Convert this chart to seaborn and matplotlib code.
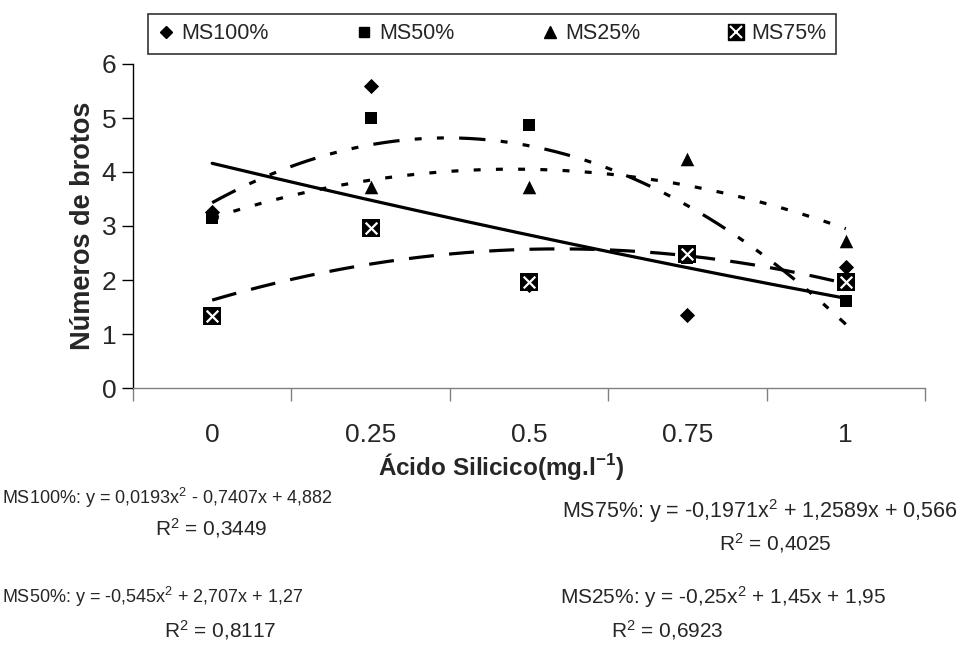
import numpy as np
import pandas as pd
import matplotlib
matplotlib.use("Agg")
import matplotlib.pyplot as plt
from matplotlib.lines import Line2D
from matplotlib.legend_handler import HandlerTuple
import seaborn as sns

# ---------------- data ----------------
categories = ["0", "0.25", "0.5", "0.75", "1"]
series_names = ["MS100%", "MS50%", "MS25%", "MS75%"]
ms100 = [3.26, 5.60, 1.90, 1.35, 2.25]
ms50 = [3.15, 5.00, 4.87, 2.40, 1.62]
ms25 = [3.25, 3.73, 3.73, 4.24, 2.72]
ms75 = [1.33, 2.97, 1.97, 2.48, 1.97]

# trendline coefficients (a, b, c) from the chart equations, x = category index 1..5
coef_ms100 = [0.0193, -0.7407, 4.882]
coef_ms50 = [-0.545, 2.707, 1.27]
coef_ms25 = [-0.25, 1.45, 1.95]
coef_ms75 = [-0.1971, 1.2589, 0.566]

eq_texts = {
    "MS100%": ("MS100%: y = 0,0193x$^2$ - 0,7407x + 4,882", "R$^2$ = 0,3449"),
    "MS75%": ("MS75%: y = -0,1971x$^2$ + 1,2589x + 0,566", "R$^2$ = 0,4025"),
    "MS50%": ("MS50%: y = -0,545x$^2$ + 2,707x + 1,27", "R$^2$ = 0,8117"),
    "MS25%": ("MS25%: y = -0,25x$^2$ + 1,45x + 1,95", "R$^2$ = 0,6923"),
}

# ---------------- style ----------------
sns.set_theme(style="white")
plt.rcParams["font.family"] = ["Liberation Sans", "DejaVu Sans"]
plt.rcParams["mathtext.fontset"] = "custom"
plt.rcParams["mathtext.rm"] = "Liberation Sans"
plt.rcParams["mathtext.it"] = "Liberation Sans:italic"
plt.rcParams["mathtext.bf"] = "Liberation Sans:bold"
plt.rcParams["lines.scale_dashes"] = False

W, H = 960, 669
fig = plt.figure(figsize=(W / 100, H / 100), dpi=100)
ax = fig.add_axes([133 / W, 1 - 388 / H, (925 - 133) / W, (388 - 64) / H])

def fx(px):
    return px / W

def fy(py):
    return 1 - py / H

pos = np.arange(len(categories))
vals = {"MS100%": ms100, "MS50%": ms50, "MS25%": ms25, "MS75%": ms75}
coefs = {"MS100%": coef_ms100, "MS50%": coef_ms50, "MS25%": coef_ms25, "MS75%": coef_ms75}
styles = {
    "MS100%": "-",
    "MS50%": (0, (19, 11, 5, 11, 5, 11)),
    "MS25%": (0, (5, 11)),
    "MS75%": (0, (18, 11)),
}

# trendlines
t = np.linspace(1, len(categories), 200)
for name in series_names:
    a, b, c = coefs[name]
    df_line = pd.DataFrame({"x": t - 1, "y": np.polyval([a, b, c], t)})
    sns.lineplot(data=df_line, x="x", y="y", ax=ax, color="black", lw=2.3,
                 linestyle=styles[name], zorder=2, estimator=None, sort=False)

# points
marker_spec = {
    "MS100%": dict(marker="D", s=60),
    "MS50%": dict(marker="s", s=70),
    "MS25%": dict(marker="^", s=95),
}
for name in ["MS100%", "MS50%", "MS25%"]:
    d = pd.DataFrame({"x": pos, "y": vals[name]})
    sns.scatterplot(data=d, x="x", y="y", ax=ax, color="black", edgecolor="black",
                    linewidth=0, zorder=3, **marker_spec[name])
d75 = pd.DataFrame({"x": pos, "y": ms75})
sns.scatterplot(data=d75, x="x", y="y", ax=ax, marker="s", s=150, color="black",
                edgecolor="black", linewidth=0, zorder=4)
sns.scatterplot(data=d75, x="x", y="y", ax=ax, marker="x", s=70, color="white",
                linewidth=1.6, zorder=5)

# axes
ax.set_xlim(-0.5, len(categories) - 0.5)
ax.set_ylim(0, 6)
ax.set_yticks(range(0, 7))
ax.set_xticks(np.arange(-0.5, len(categories), 1.0))
ax.set_xticklabels([])
ax.set_xticks(pos, minor=True)
ax.set_xticklabels(categories, minor=True)
ax.tick_params(axis="x", which="major", direction="out", length=9, width=1,
               color="#808080", bottom=True)
ax.tick_params(axis="x", which="minor", length=0, pad=25, labelsize=19)
ax.tick_params(axis="y", direction="out", length=8, width=1, color="black",
               left=True, pad=4, labelsize=19)
for side in ["top", "right"]:
    ax.spines[side].set_visible(False)
ax.spines["left"].set_color("black")
ax.spines["bottom"].set_color("#808080")
ax.spines["left"].set_linewidth(1)
ax.spines["bottom"].set_linewidth(1)
ax.set_xlabel("")
ax.set_ylabel("Números de brotos", fontsize=19.5, fontweight="bold", labelpad=4)

fig.text(fx(501), fy(466), "Ácido Silicico(mg.l$^{\\mathbf{-1}}$)", fontsize=17.5,
         fontweight="bold", ha="center", va="center")

# equations
fig.text(fx(2), fy(498), eq_texts["MS100%"][0], fontsize=13, ha="left", va="center")
fig.text(fx(211), fy(528), eq_texts["MS100%"][1], fontsize=15, ha="center", va="center")
fig.text(fx(958), fy(511), eq_texts["MS75%"][0], fontsize=15.5, ha="right", va="center")
fig.text(fx(775), fy(543), eq_texts["MS75%"][1], fontsize=15, ha="center", va="center")
fig.text(fx(2), fy(597), eq_texts["MS50%"][0], fontsize=13, ha="left", va="center")
fig.text(fx(220), fy(630), eq_texts["MS50%"][1], fontsize=15, ha="center", va="center")
fig.text(fx(560), fy(597), eq_texts["MS25%"][0], fontsize=15, ha="left", va="center")
fig.text(fx(667), fy(630), eq_texts["MS25%"][1], fontsize=15, ha="center", va="center")

# legend
h100 = Line2D([], [], marker="D", color="black", ls="none", markersize=6.5)
h50 = Line2D([], [], marker="s", color="black", ls="none", markersize=7.5)
h25 = Line2D([], [], marker="^", color="black", ls="none", markersize=9)
h75a = Line2D([], [], marker="s", color="black", ls="none", markersize=11)
h75b = Line2D([], [], marker="x", color="white", ls="none", markersize=8, mew=1.5)
leg = fig.legend([h100, h50, h25, (h75a, h75b)], series_names,
                 handler_map={tuple: HandlerTuple(ndivide=1, pad=0)},
                 loc="lower left", mode="expand", ncol=4,
                 bbox_to_anchor=(fx(148), fy(54), fx(836) - fx(148), fy(12) - fy(54)),
                 borderaxespad=0, fontsize=15.5, frameon=True, fancybox=False,
                 edgecolor="black", handlelength=0.8, handletextpad=0.3,
                 borderpad=0.45)
leg.get_frame().set_linewidth(1.2)

fig.savefig("out.png", dpi=100)
